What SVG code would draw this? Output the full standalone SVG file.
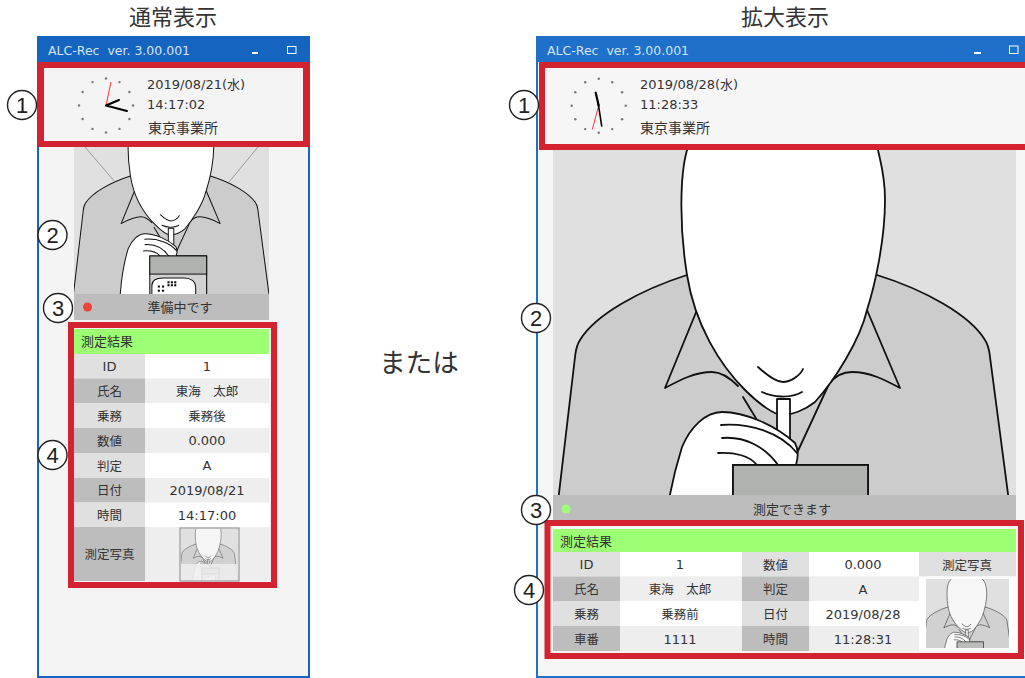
<svg xmlns="http://www.w3.org/2000/svg" xmlns:xlink="http://www.w3.org/1999/xlink" width="1025" height="678" viewBox="0 0 1025 678">
<style>
text{font-family:"DejaVu Sans","Noto Sans CJK JP",sans-serif;fill:#333;font-size:13px}
.j{font-family:"Noto Sans CJK JP","Noto Sans",sans-serif;font-size:12.500px}
.m{text-anchor:middle}
.title{font-size:22px;font-family:"Noto Sans CJK JP",sans-serif;text-anchor:middle;fill:#333}
.ttl{fill:#d5e4f5;font-size:12.500px}
.red{fill:none;stroke:#d32230;stroke-width:6}
.a{fill:#e0e0e0}.b{fill:#bdbdbd}.w{fill:#fff}.g{fill:#eee}
.hdr{fill:#9dff73}
.num{fill:#fff;stroke:#222;stroke-width:1.400}
.numt{font-size:22px;text-anchor:middle;fill:#222;font-family:"Liberation Sans",sans-serif}
.l{fill:none;stroke:#111;stroke-linecap:round;stroke-linejoin:round}
.lw{fill:#fff;stroke:#111;stroke-linejoin:round}
.dot{fill:#777}
</style>
<defs>
<g id="person">
<rect x="553" y="100" width="463" height="470" fill="#dfe0df" stroke="none"/>
<path d="M687 275C640 290 595 315 580 340C576 346 576 350 575 357L550 570H1018L990 357C989 350 989 346 985 340C970 315 925 290 877 275Z" fill="#ccc" stroke="#111"/>
<path class="l" d="M697 310L665 388C680 380 695 372 712 372C722 372 730 378 738 386M867 310L900 388C885 380 870 372 852 372C842 372 835 376 829 384L797 453M743 397L757 420"/>
<path class="lw" d="M687 150C680 175 679 225 687 275C695 325 720 365 745 390C760 405 775 415 782 415C792 415 805 410 815 402C835 380 860 340 867 310C875 285 885 240 885 200C885 175 880 160 878 150C870 120 830 90 783 90C735 90 695 120 687 150Z"/>
<path class="l" d="M758 367C770 378 778 382 783 382C790 382 800 376 803 369M762 392C772 397 790 399 802 392"/>
<path class="lw" d="M777 399H790V445H777Z"/>
<path class="lw" d="M662 570C664 530 667 495 682 447C690 428 705 412 722 412C745 412 775 425 795 443C799 450 798 458 796 465H868V570Z"/>
<path class="l" d="M721 425C750 423 780 432 797 453M722 438C745 436 765 447 778 465M718 453C735 452 750 456 757 465"/>
<rect x="733" y="465" width="135" height="105" fill="#d2d2d2" stroke="#111"/>
<rect x="733" y="465" width="135" height="43" fill="#b0b2b0" stroke="#111"/>
<path class="lw" d="M738 570V535C738 522 750 517 765 517H815C830 517 842 525 842 540V570Z"/>
<g fill="#111" stroke="none"><rect x="752" y="535" width="5" height="5"/><rect x="762" y="535" width="5" height="5"/><rect x="752" y="545" width="5" height="5"/><rect x="762" y="545" width="5" height="5"/><rect x="775" y="525" width="5" height="5"/><rect x="783" y="525" width="5" height="5"/><rect x="791" y="525" width="5" height="5"/><rect x="775" y="532" width="5" height="5"/><rect x="783" y="532" width="5" height="5"/><rect x="791" y="532" width="5" height="5"/></g>
</g>
<g id="ticks" class="dot">
<circle cx="27" cy="0" r="1.200"/><circle cx="23.400" cy="13.500" r="1.200"/><circle cx="13.500" cy="23.400" r="1.200"/><circle cx="0" cy="27" r="1.200"/><circle cx="-13.500" cy="23.400" r="1.200"/><circle cx="-23.400" cy="13.500" r="1.200"/><circle cx="-27" cy="0" r="1.200"/><circle cx="-23.400" cy="-13.500" r="1.200"/><circle cx="-13.500" cy="-23.400" r="1.200"/><circle cx="0" cy="-27" r="1.200"/><circle cx="13.500" cy="-23.400" r="1.200"/><circle cx="23.400" cy="-13.500" r="1.200"/>
</g>
<clipPath id="cl"><rect x="74" y="147" width="195" height="147"/></clipPath>
<clipPath id="cr"><rect x="553" y="150" width="463" height="345"/></clipPath>
<clipPath id="ct1"><rect x="181" y="529" width="57" height="51"/></clipPath>
<clipPath id="ct2"><rect x="926" y="579" width="83" height="69"/></clipPath>
</defs>
<rect width="1025" height="678" fill="#fff"/>
<text class="title" x="173" y="25">通常表示</text>
<text class="title" x="785" y="25">拡大表示</text>
<text class="j m" x="419" y="372" style="font-size:26.500px">または</text>

<g id="window-normal">
<rect x="38" y="37" width="271" height="640" fill="#f4f4f4" stroke="#1565c0" stroke-width="2"/>
<rect x="37" y="36" width="273" height="26" fill="#1565c0"/>
<text class="ttl" x="48" y="55" xml:space="preserve">ALC-Rec  ver. 3.00.001</text>
<rect x="252" y="52" width="6" height="2" fill="#fff"/>
<rect x="287.500" y="46.500" width="8.500" height="7" fill="none" stroke="#fff"/>
</g>
<g id="camera-normal">
<g clip-path="url(#cl)">
<rect x="74" y="147" width="195" height="147" fill="#dfe0df"/>
<use xlink:href="#person" href="#person" transform="translate(74 176) scale(.421) translate(-553 -275)" stroke-width="2.400"/>
<path d="M85 147L115 182M258 147L229 182" stroke="#888" stroke-width=".8" fill="none"/>
</g>
</g>
<g id="status-normal">
<rect x="74" y="294" width="195" height="26" fill="#bdbdbd"/>
<circle cx="87.500" cy="307" r="4.500" fill="#f44336"/>
<text class="j m" x="180" y="312" style="font-size:13px">準備中です</text>
</g>
<g id="clock-normal">
<rect x="41" y="65" width="265" height="79" fill="#f4f4f4"/>
<use xlink:href="#ticks" href="#ticks" x="106" y="105.500"/>
<path d="M106 105.500L111 82" stroke="#f33" stroke-width="1" fill="none"/>
<path d="M106 105.500L119 100M106 105.500L127 111" stroke="#000" stroke-width="2" fill="none" stroke-linecap="round"/>
<text x="147" y="89">2019/08/21(水)</text>
<text x="147" y="109">14:17:02</text>
<text class="j" x="148" y="133" style="font-size:14px">東京事業所</text>
<rect class="red" x="41" y="65" width="265" height="79"/>
</g>
<g id="result-normal">
<rect x="71" y="325" width="203" height="260" fill="#f4f4f4"/>
<rect class="hdr" x="74" y="329" width="195" height="25"/>
<text class="j" x="81" y="346" style="font-size:13px">測定結果</text>
<rect class="a" x="74" y="354" width="71" height="24.500"/><rect class="w" x="145" y="354" width="124" height="24.500"/>
<rect class="b" x="74" y="378.500" width="71" height="24.500"/><rect class="g" x="145" y="378.500" width="124" height="24.500"/>
<rect class="a" x="74" y="403" width="71" height="25"/><rect class="w" x="145" y="403" width="124" height="25"/>
<rect class="b" x="74" y="428" width="71" height="25"/><rect class="g" x="145" y="428" width="124" height="25"/>
<rect class="a" x="74" y="453" width="71" height="25"/><rect class="w" x="145" y="453" width="124" height="25"/>
<rect class="b" x="74" y="478" width="71" height="24.500"/><rect class="g" x="145" y="478" width="124" height="24.500"/>
<rect class="a" x="74" y="502.500" width="71" height="24.500"/><rect class="w" x="145" y="502.500" width="124" height="24.500"/>
<rect class="b" x="74" y="527" width="71" height="54"/><rect class="g" x="145" y="527" width="126" height="54"/>
<text class="m" x="109.500" y="371">ID</text><text class="m" x="207" y="371">1</text>
<text class="j m" x="109.500" y="396">氏名</text><text class="j m" x="207" y="396">東海　太郎</text>
<text class="j m" x="109.500" y="421">乗務</text><text class="j m" x="207" y="421">乗務後</text>
<text class="j m" x="109.500" y="446">数値</text><text class="m" x="207" y="445">0.000</text>
<text class="j m" x="109.500" y="471">判定</text><text class="m" x="207" y="470">A</text>
<text class="j m" x="109.500" y="495">日付</text><text class="m" x="207" y="495">2019/08/21</text>
<text class="j m" x="109.500" y="520">時間</text><text class="m" x="207" y="520">14:17:00</text>
<text class="j m" x="109.500" y="559">測定写真</text>
<g clip-path="url(#ct1)">
<rect x="180" y="528" width="59" height="53" fill="#dfe0df"/>
<g opacity=".7"><use xlink:href="#person" href="#person" transform="translate(179 544) scale(.127) translate(-553 -275)" stroke-width="4"/></g>
<rect x="181" y="564" width="57" height="17" fill="#eee" opacity=".85"/>
</g>
<rect x="180" y="528" width="59" height="53" fill="none" stroke="#888"/>
<rect class="red" x="71" y="325" width="203" height="260"/>
</g>

<g id="window-large">
<rect x="537" y="37" width="490" height="640" fill="#f6f6f6" stroke="#1e70c8" stroke-width="2"/>
<rect x="536" y="36" width="489" height="26" fill="#1e70c8"/>
<text class="ttl" x="547" y="55" xml:space="preserve">ALC-Rec  ver. 3.00.001</text>
<rect x="974" y="52" width="7" height="2" fill="#fff"/>
<rect x="1009.500" y="46" width="8.500" height="7.500" fill="none" stroke="#fff"/>
</g>
<g id="camera-large">
<g clip-path="url(#cr)">
<rect x="553" y="150" width="463" height="345" fill="#dfe0df"/>
<use xlink:href="#person" href="#person" stroke-width="1.800"/>
</g>
</g>
<g id="status-large">
<rect x="553" y="495" width="463" height="26" fill="#bdbdbd"/>
<circle cx="566" cy="509" r="4.500" fill="#a0ff78"/>
<text class="j m" x="792" y="514" style="font-size:13px">測定できます</text>
</g>
<g id="clock-large">
<rect x="542" y="65" width="486" height="82" fill="#f6f6f6"/>
<use xlink:href="#ticks" href="#ticks" x="598.700" y="105.700"/>
<path d="M598.700 105.700L592.300 129.300" stroke="#f33" stroke-width="1" fill="none"/>
<path d="M598.700 105.700L595.700 92.700" stroke="#000" stroke-width="2.200" fill="none" stroke-linecap="round"/>
<path d="M598 102L601.700 126" stroke="#000" stroke-width="1.600" fill="none" stroke-linecap="round"/>
<text x="640" y="89">2019/08/28(水)</text>
<text x="640" y="109">11:28:33</text>
<text class="j" x="640" y="133" style="font-size:14px">東京事業所</text>
<rect class="red" x="542" y="65" width="486" height="82"/>
</g>
<g id="result-large">
<rect x="547.500" y="523" width="473.500" height="133" fill="#f6f6f6"/>
<rect class="hdr" x="553" y="529" width="463" height="23"/>
<text class="j" x="560" y="546" style="font-size:13px">測定結果</text>
<rect class="a" x="553" y="552" width="67" height="24.500"/><rect class="w" x="620" y="552" width="122" height="24.500"/><rect class="a" x="742" y="552" width="67" height="24.500"/><rect class="w" x="809" y="552" width="110" height="24.500"/><rect class="a" x="919" y="552" width="97" height="24.500"/>
<rect class="b" x="553" y="576.500" width="67" height="24.500"/><rect class="g" x="620" y="576.500" width="122" height="24.500"/><rect class="b" x="742" y="576.500" width="67" height="24.500"/><rect class="g" x="809" y="576.500" width="110" height="24.500"/>
<rect class="a" x="553" y="601" width="67" height="25"/><rect class="w" x="620" y="601" width="122" height="25"/><rect class="a" x="742" y="601" width="67" height="25"/><rect class="w" x="809" y="601" width="110" height="25"/>
<rect class="b" x="553" y="626" width="67" height="25"/><rect class="g" x="620" y="626" width="122" height="25"/><rect class="b" x="742" y="626" width="67" height="25"/><rect class="g" x="809" y="626" width="110" height="25"/>
<rect class="w" x="919" y="576.500" width="97" height="74.500"/>
<text class="m" x="586.500" y="569">ID</text><text class="m" x="680" y="569">1</text><text class="j m" x="775.500" y="570">数値</text><text class="m" x="863" y="569">0.000</text><text class="j m" x="967" y="570">測定写真</text>
<text class="j m" x="586.500" y="594">氏名</text><text class="j m" x="680" y="594">東海　太郎</text><text class="j m" x="775.500" y="594">判定</text><text class="m" x="863" y="594">A</text>
<text class="j m" x="586.500" y="619">乗務</text><text class="j m" x="680" y="619">乗務前</text><text class="j m" x="775.500" y="619">日付</text><text class="m" x="863" y="619">2019/08/28</text>
<text class="j m" x="586.500" y="644">車番</text><text class="m" x="680" y="644">1111</text><text class="j m" x="775.500" y="644">時間</text><text class="m" x="863" y="644">11:28:31</text>
<g clip-path="url(#ct2)">
<rect x="926" y="579" width="83" height="69" fill="#dfe0df"/>
<g opacity=".75"><use xlink:href="#person" href="#person" transform="translate(922 607) scale(.195 .184) translate(-553 -275)" stroke-width="3.500"/></g>
</g>
<rect class="red" x="547.500" y="523" width="473.500" height="133"/>
</g>

<g id="markers">
<g id="n1l"><circle class="num" cx="22" cy="105" r="14.500"/><text class="numt" x="22" y="113">1</text></g>
<g id="n2l"><circle class="num" cx="52.500" cy="235" r="14.500"/><text class="numt" x="52.500" y="243">2</text></g>
<g id="n3l"><circle class="num" cx="58" cy="308" r="14.500"/><text class="numt" x="58" y="316">3</text></g>
<g id="n4l"><circle class="num" cx="52.500" cy="455" r="14.500"/><text class="numt" x="52.500" y="463">4</text></g>
<g id="n1r"><circle class="num" cx="524" cy="105" r="14.500"/><text class="numt" x="524" y="113">1</text></g>
<g id="n2r"><circle class="num" cx="536" cy="318" r="14.500"/><text class="numt" x="536" y="326">2</text></g>
<g id="n3r"><circle class="num" cx="536" cy="510" r="14.500"/><text class="numt" x="536" y="518">3</text></g>
<g id="n4r"><circle class="num" cx="529" cy="590" r="14.500"/><text class="numt" x="529" y="598">4</text></g>
</g>
</svg>
